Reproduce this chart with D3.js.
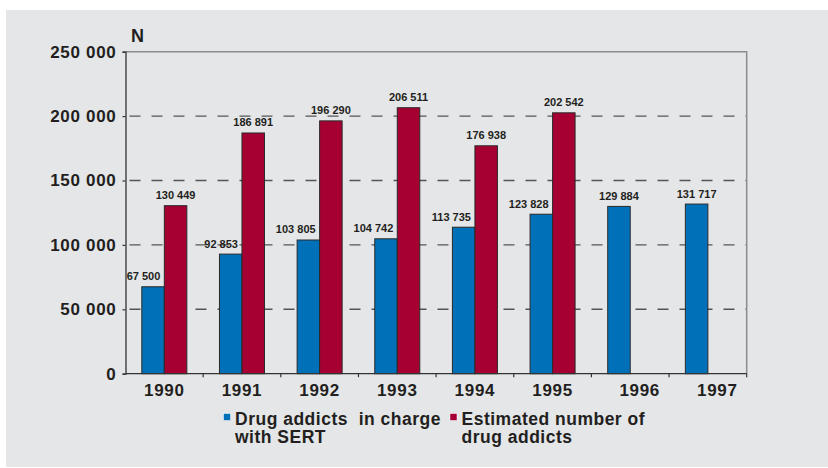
<!DOCTYPE html>
<html lang="en">
<head>
<meta charset="UTF-8">
<title>Drug addicts</title>
<style>
    body { margin: 0; background: #fff; }
    svg { display: block; font-family: "Liberation Sans", Arial, Helvetica, sans-serif; }
    .bold { font-weight: bold; fill: #231f20; }
</style>
</head>
<body>
<svg id="chart" width="828" height="468"></svg>
<script src="https://d3js.org/d3.v7.min.js"></script>
<script>
    // data
    const years = ["1990", "1991", "1992", "1993", "1994", "1995", "1996", "1997"];
    const inCharge = [67500, 92853, 103805, 104742, 113735, 123828, 129884, 131717];
    const estimated = [130449, 186891, 196290, 206511, 176938, 202542, null, null];
    const seriesNames = ["Drug addicts  in charge|with SERT", "Estimated number of|drug addicts"];
    const seriesColors = ["#0071b9", "#a60033"];
    const yTicks = [0, 50000, 100000, 150000, 200000, 250000];

    const svg = d3.select("#chart");

    // grey panel
    svg.append("rect")
        .attr("x", 6).attr("y", 10)
        .attr("width", 822).attr("height", 457)
        .attr("fill", "#e5e6e8");

    const plotL = 125.5, plotR = 746.7, plotT = 51.7, plotB = 373.7;

    const x = d3.scaleBand().domain(years).range([plotL, plotR]).padding(0);
    const x1 = d3.scaleBand().domain([0, 1]).range([0, x.bandwidth()])
        .paddingInner(0).paddingOuter(0.725);
    const y = d3.scaleLinear().domain([0, 250000]).range([plotB, plotT]);

    const fmt = v => d3.format(",")(v).replace(/,/g, " ");

    // dashed grid lines
    svg.append("g").selectAll("line")
        .data(yTicks.filter(t => t > 0 && t < 250000))
        .join("line")
        .attr("x1", plotL).attr("x2", plotR)
        .attr("y1", d => y(d)).attr("y2", d => y(d))
        .attr("stroke", "#555")
        .attr("stroke-width", 1.4)
        .attr("stroke-dasharray", "11 11")
        .attr("stroke-dashoffset", -4);

    // top and right frame
    svg.append("path")
        .attr("d", `M${plotL},${y(250000)}H${plotR}V${plotB}`)
        .attr("fill", "none")
        .attr("stroke", "#8c8c8c")
        .attr("stroke-width", 1.5);

    // bars
    const rows = years.map((yr, i) => ({ year: yr, vals: [inCharge[i], estimated[i]] }));
    const groups = svg.append("g").selectAll("g")
        .data(rows)
        .join("g")
        .attr("transform", d => `translate(${x(d.year)},0)`);

    groups.selectAll("rect")
        .data(d => d.vals.map((v, k) => ({ k, v })).filter(e => e.v != null))
        .join("rect")
        .attr("x", e => x1(e.k))
        .attr("width", x1.bandwidth())
        .attr("y", e => y(e.v))
        .attr("height", e => plotB - y(e.v))
        .attr("fill", e => seriesColors[e.k])
        .attr("stroke", "#2a2a2a")
        .attr("stroke-width", 1);

    // value labels
    groups.selectAll("text")
        .data(d => d.vals.map((v, k) => ({ k, v, paired: d.vals[1] != null })).filter(e => e.v != null))
        .join("text")
        .attr("class", "bold")
        .attr("font-size", 11)
        .attr("text-anchor", e => (e.k === 0 && e.paired) ? "end" : "middle")
        .attr("x", e => (e.k === 0 && e.paired) ? x1(0) + x1.bandwidth() - 4 : x1(e.k) + x1.bandwidth() / 2)
        .attr("y", e => y(e.v) - 6.5)
        .text(e => fmt(e.v));

    // y axis
    const yAxis = svg.append("g")
        .attr("transform", `translate(${plotL},0)`)
        .call(d3.axisLeft(y).tickValues(yTicks).tickFormat(fmt).tickSize(3).tickPadding(6));
    yAxis.select(".domain").attr("stroke", "#333").attr("stroke-width", 1.3);
    yAxis.selectAll(".tick line").attr("stroke", "#333").attr("stroke-width", 1.2);
    yAxis.attr("font-family", null).attr("font-size", null);
    yAxis.selectAll(".tick text")
        .attr("class", "bold")
        .attr("fill", null)
        .attr("font-size", 17)
        .attr("letter-spacing", 0.7);

    svg.append("text")
        .attr("class", "bold")
        .attr("x", 131).attr("y", 42.3)
        .attr("font-size", 18)
        .text("N");

    // x axis: line, ticks at category borders, year labels
    svg.append("line")
        .attr("x1", plotL).attr("x2", plotR)
        .attr("y1", plotB).attr("y2", plotB)
        .attr("stroke", "#333").attr("stroke-width", 1.3);

    svg.append("g").selectAll("line")
        .data(years.slice(1).map(d => x(d)).concat([plotR]))
        .join("line")
        .attr("x1", d => d).attr("x2", d => d)
        .attr("y1", plotB).attr("y2", plotB + 3.5)
        .attr("stroke", "#333").attr("stroke-width", 1.2);

    svg.append("g").selectAll("text")
        .data(rows)
        .join("text")
        .attr("class", "bold")
        .attr("font-size", 17)
        .attr("letter-spacing", 0.7)
        .attr("text-anchor", "middle")
        .attr("x", d => x(d.year) + x.bandwidth() / 2 + (d.vals[1] == null ? 9.5 : 0))
        .attr("y", 396)
        .text(d => d.year);

    // legend
    const legendX = [223.5, 450];
    const legend = svg.append("g").selectAll("g")
        .data(seriesNames)
        .join("g")
        .attr("transform", (d, i) => `translate(${legendX[i]},0)`);

    legend.append("rect")
        .attr("x", 0).attr("y", 413.5)
        .attr("width", 7).attr("height", 7)
        .attr("fill", (d, i) => seriesColors[i])
        .attr("stroke", "#fff")
        .attr("stroke-width", 0.5);

    legend.append("text")
        .attr("class", "bold")
        .attr("font-size", 17.5)
        .attr("letter-spacing", 0.5)
        .style("white-space", "pre")
        .selectAll("tspan")
        .data(d => d.split("|"))
        .join("tspan")
        .attr("x", 11.5)
        .attr("y", (d, j) => 425 + j * 18.3)
        .text(d => d);
</script>
</body>
</html>
